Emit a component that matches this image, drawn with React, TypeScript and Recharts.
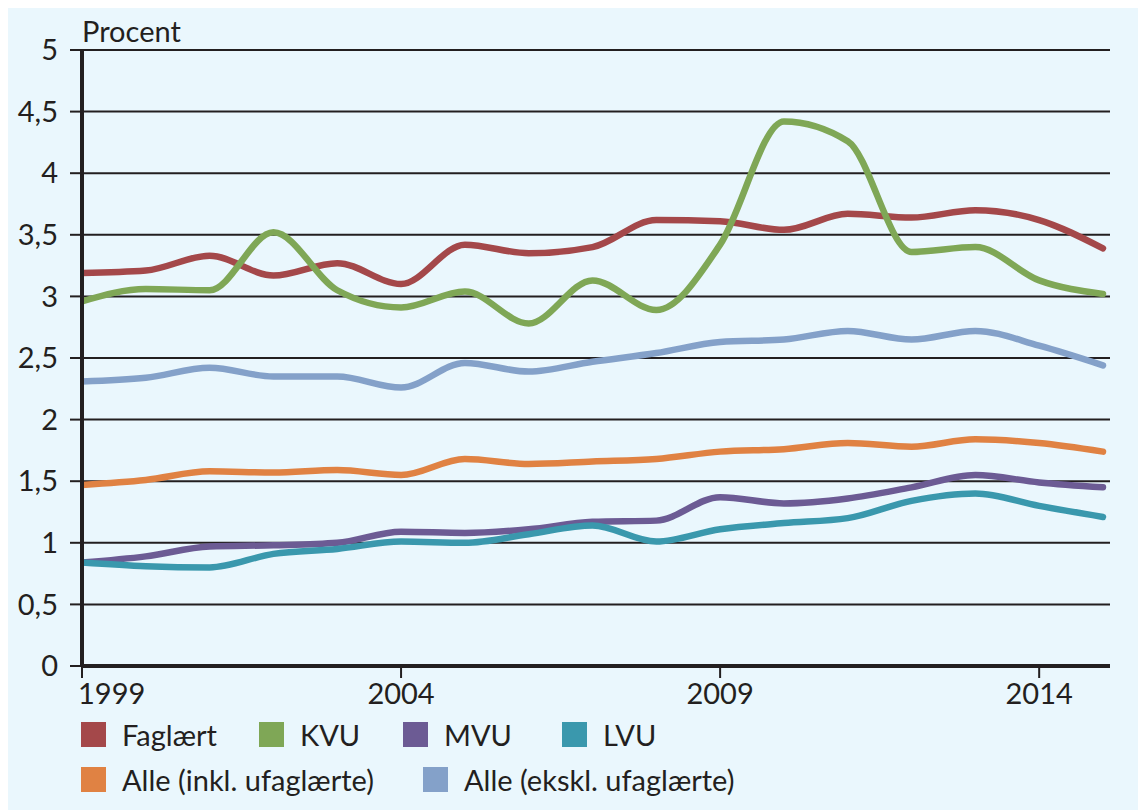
import { LineChart, Line, XAxis, YAxis, CartesianGrid } from "recharts";

const years = [1999, 2000, 2001, 2002, 2003, 2004, 2005, 2006, 2007, 2008, 2009, 2010, 2011, 2012, 2013, 2014, 2015];
const faglaert = [3.19, 3.21, 3.33, 3.17, 3.27, 3.1, 3.42, 3.35, 3.4, 3.62, 3.61, 3.54, 3.67, 3.64, 3.7, 3.62, 3.39];
const kvu = [2.96, 3.06, 3.05, 3.52, 3.05, 2.91, 3.04, 2.78, 3.13, 2.89, 3.42, 4.42, 4.26, 3.36, 3.4, 3.13, 3.02];
const mvu = [0.84, 0.89, 0.97, 0.98, 1.0, 1.09, 1.08, 1.11, 1.17, 1.18, 1.37, 1.32, 1.36, 1.45, 1.55, 1.49, 1.45];
const lvu = [0.84, 0.81, 0.8, 0.91, 0.95, 1.01, 1.0, 1.07, 1.14, 1.01, 1.11, 1.16, 1.2, 1.34, 1.4, 1.3, 1.21];
const alleInkl = [1.47, 1.51, 1.58, 1.57, 1.59, 1.55, 1.68, 1.64, 1.66, 1.68, 1.74, 1.76, 1.81, 1.78, 1.84, 1.81, 1.74];
const alleEkskl = [2.31, 2.34, 2.42, 2.35, 2.35, 2.26, 2.46, 2.39, 2.47, 2.54, 2.63, 2.65, 2.72, 2.65, 2.72, 2.6, 2.44];

const yTicks = [0, 0.5, 1, 1.5, 2, 2.5, 3, 3.5, 4, 4.5, 5];
const xTicks = [1999, 2004, 2009, 2014];

const series = [
  { key: "faglaert", name: "Faglært", color: "#a4484a", values: faglaert },
  { key: "kvu", name: "KVU", color: "#7fa756", values: kvu },
  { key: "mvu", name: "MVU", color: "#6c5b94", values: mvu },
  { key: "lvu", name: "LVU", color: "#3a98ad", values: lvu },
  { key: "alleInkl", name: "Alle (inkl. ufaglærte)", color: "#e08243", values: alleInkl },
  { key: "alleEkskl", name: "Alle (ekskl. ufaglærte)", color: "#84a1c9", values: alleEkskl },
];

const data = years.map((year, i) => {
  const row: Record<string, number> = { year };
  series.forEach((s) => (row[s.key] = s.values[i]));
  return row;
});

// legend placement (wrapper coords: left of swatch, vertical centre)
const legendPos: Record<string, [number, number]> = {
  faglaert: [73, 726],
  kvu: [251, 726],
  mvu: [395, 726],
  lvu: [554, 726],
  alleInkl: [73, 771],
  alleEkskl: [415, 771],
};

const ink = "#231f20";
const font = "Lato, sans-serif";
const fs = 29;

const XTick = (props: any) => {
  const { x, y, payload } = props;
  const first = payload.value === 1999;
  return (
    <text
      x={first ? x - 4 : x}
      y={y}
      dy="0.71em"
      textAnchor={first ? "start" : "middle"}
      fill={ink}
      fontSize={fs}
      fontFamily={font}
    >
      {payload.value}
    </text>
  );
};

export default function App() {
  return (
    <div style={{ position: "relative", width: 1138, height: 802, background: "#eaf7fd", fontFamily: font, color: ink }}>
      <div style={{ position: "absolute", left: 74, top: 8, fontSize: fs, lineHeight: `${fs}px` }}>Procent</div>
      <LineChart width={1138} height={802} data={data} margin={{ top: 42, right: 36, left: 0, bottom: 104 }}>
        <CartesianGrid vertical={false} stroke={ink} strokeWidth={2} fill="none" />
        <XAxis
          dataKey="year"
          type="number"
          domain={[1999, 2015.11]}
          ticks={xTicks}
          height={40}
          tickSize={12}
          tickMargin={5}
          axisLine={{ stroke: ink, strokeWidth: 4 }}
          tickLine={{ stroke: ink, strokeWidth: 2 }}
          tick={<XTick />}
          allowDataOverflow
        />
        <YAxis
          domain={[0, 5]}
          ticks={yTicks}
          width={74}
          tickSize={12}
          tickMargin={12}
          interval={0}
          axisLine={{ stroke: ink, strokeWidth: 4 }}
          tickLine={{ stroke: ink, strokeWidth: 2 }}
          tick={{ fill: ink, fontSize: fs, fontFamily: font }}
          tickFormatter={(v: number) => String(v).replace(".", ",")}
        />
        {series.map((s) => (
          <Line
            key={s.key}
            dataKey={s.key}
            name={s.name}
            type="monotone"
            stroke={s.color}
            strokeWidth={6.5}
            strokeLinecap="round"
            dot={false}
            activeDot={false}
            isAnimationActive={false}
          />
        ))}
      </LineChart>
      {series.map((s) => {
        const [lx, ly] = legendPos[s.key];
        return (
          <div
            key={s.key}
            style={{ position: "absolute", left: lx, top: ly - 14, height: 28, display: "flex", alignItems: "center", whiteSpace: "nowrap" }}
          >
            <span style={{ display: "inline-block", width: 25, height: 25, background: s.color, marginRight: 16 }} />
            <span style={{ fontSize: fs, lineHeight: `${fs}px` }}>{s.name}</span>
          </div>
        );
      })}
    </div>
  );
}
